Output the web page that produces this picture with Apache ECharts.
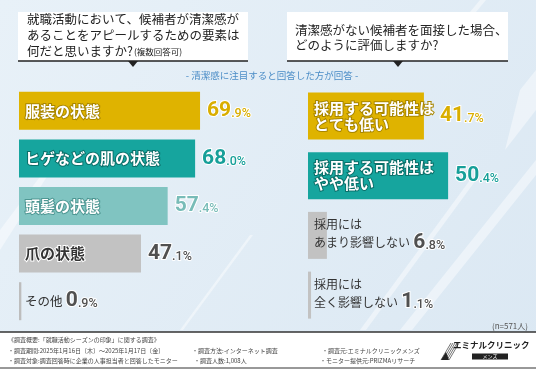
<!DOCTYPE html>
<html><head><meta charset="utf-8">
<script src="https://cdn.jsdelivr.net/npm/echarts@6/dist/echarts.min.js"></script>
<style>html,body{margin:0;padding:0;background:#fff}#c{width:536px;height:371px}</style>
</head><body><div id="c"></div>
<script>
const leftCategories = ['服装の状態', 'ヒゲなどの肌の状態', '頭髪の状態', '爪の状態', 'その他'];
const leftValues = [69.9, 68.0, 57.4, 47.1, 0.9];
const rightCategories = ['採用する可能性は\nとても低い', '採用する可能性は\nやや低い', '採用には\nあまり影響しない', '採用には\n全く影響しない'];
const rightValues = [41.7, 50.4, 6.8, 1.1];
const leftTitle = ['就職活動において、候補者が清潔感が', 'あることをアピールするための要素は', '何だと思いますか?'];
const leftTitleNote = '(複数回答可)';
const rightTitle = ['清潔感がない候補者を面接した場合、', 'どのように評価しますか?'];
const subtitle = '- 清潔感に注目すると回答した方が回答 -';
const sampleNote = '(n=571人)';

const JP = '"Noto Sans CJK JP", "Noto Sans", sans-serif';
const NUM = 'Roboto, "Noto Sans", sans-serif';

const GOLD = '#dfb300', TEAL = '#16a59e', LTEAL = '#80c4c1', GRAY = '#c2c2c2';
const leftStyle = [
  {bar: GOLD, txt: '#fff', brd: '#a88600', num: '#d9ae00', inner: false, dist: 7},
  {bar: TEAL, txt: '#fff', brd: '#0b6f69', num: '#169f99', inner: false, dist: 7},
  {bar: LTEAL, txt: '#fff', brd: '#4e9793', num: '#78bcb8', inner: false, dist: 7},
  {bar: GRAY, txt: '#333', brd: '#fff', num: '#505050', inner: false, dist: 7},
  {bar: '#bdbdbd', txt: '#333', brd: '#fff', num: '#505050', inner: true}
];
const rightStyle = [
  {bar: GOLD, txt: '#fff', brd: '#a88600', num: '#d9ae00', inner: false, dist: 16},
  {bar: TEAL, txt: '#fff', brd: '#0b6f69', num: '#169f99', inner: false, dist: 7},
  {bar: GRAY, txt: '#333', brd: '#fff', num: '#505050', inner: true},
  {bar: GRAY, txt: '#333', brd: '#fff', num: '#505050', inner: true}
];

function splitVal(v) {
  const s = v.toFixed(1).split('.');
  return {i: s[0], d: '.' + s[1] + '%'};
}
function numRich(color) {
  return {
    a: {fontFamily: NUM, fontWeight: 'bold', fontSize: 21, color: color, textBorderColor: '#fff', textBorderWidth: 2},
    b: {fontFamily: NUM, fontWeight: 500, fontSize: 12.5, color: color, textBorderColor: '#fff', textBorderWidth: 2, padding: [6, 0, 0, 0]}
  };
}

function buildSeries(cats, vals, styles, axisIdx, boldSize, plainSize) {
  const mainData = vals.map((v, k) => {
    const st = styles[k];
    const sv = splitVal(v);
    const lines = cats[k].split('\n');
    let label;
    if (st.inner) {
      const rich = Object.assign({
        t: {fontFamily: JP, fontSize: plainSize, color: st.txt, lineHeight: plainSize + 2}
      }, numRich(st.num));
      const body = lines.map((l, j) => j === lines.length - 1 ? '{t|' + l + '} {a|' + sv.i + '}{b|' + sv.d + '}' : '{t|' + l + '}').join('\n');
      label = {show: true, position: 'insideLeft', distance: 6, formatter: body, rich: rich};
    } else {
      label = {
        show: true, position: 'insideLeft', distance: 6,
        formatter: cats[k],
        fontFamily: JP, fontWeight: 'bold', fontSize: boldSize, lineHeight: boldSize + 1,
        color: st.txt, textBorderColor: st.brd, textBorderWidth: 2
      };
    }
    return {value: v, itemStyle: {color: st.bar}, label: label};
  });
  const valData = vals.map((v, k) => {
    const st = styles[k];
    const sv = splitVal(v);
    return {
      value: v,
      label: st.inner ? {show: false} : {
        show: true, position: 'right', distance: st.dist,
        formatter: '{a|' + sv.i + '}{b|' + sv.d + '}',
        rich: numRich(st.num)
      }
    };
  });
  return [
    {type: 'bar', xAxisIndex: axisIdx, yAxisIndex: axisIdx, data: mainData, barGap: '-100%', z: 3, silent: true},
    {type: 'bar', xAxisIndex: axisIdx, yAxisIndex: axisIdx, data: valData, itemStyle: {color: 'rgba(0,0,0,0)'}, z: 4, silent: true}
  ];
}

const chart = echarts.init(document.getElementById('c'), null, {renderer: 'canvas'});

const graphics = [];
graphics.push({type: 'rect', z: -10, shape: {x: 0, y: 0, width: 536, height: 371},
  style: {fill: new echarts.graphic.LinearGradient(0, 0, 1, 1, [{offset: 0, color: '#e8f1f8'}, {offset: 1, color: '#dbe8f3'}])}});
[[[0, 250], [0, 230], [60, 150], [64, 150]], [[360, 330], [470, 180], [476, 180], [366, 330]], [[400, 330], [536, 160], [536, 175], [412, 330]],
 [[520, 90], [536, 70], [536, 110], [505, 150]], [[180, 330], [250, 235], [253, 235], [183, 330]], [[430, 60], [480, 0], [486, 0], [436, 60]]].forEach(p => {
  graphics.push({type: 'polygon', z: -9, shape: {points: p}, style: {fill: 'rgba(255,255,255,0.45)'}});
});
function titleBox(x, w, triX) {
  graphics.push({type: 'rect', z: -5, shape: {x: x, y: 12, width: w, height: 49}, style: {fill: '#fff'}});
  graphics.push({type: 'line', z: -4, shape: {x1: x, y1: 61, x2: x + w, y2: 61}, style: {stroke: '#222', lineWidth: 1.5}});
  graphics.push({type: 'polygon', z: -4, shape: {points: [[triX - 5, 61], [triX + 5, 61], [triX, 67]]}, style: {fill: '#222'}});
}
titleBox(18, 230, 133);
titleBox(287, 221, 398);
leftTitle.forEach((t, k) => {
  graphics.push({type: 'text', z: 10, style: {text: t, x: 27, y: 19 + k * 16, fill: '#222', font: '12.5px ' + JP, textVerticalAlign: 'middle'}});
});
graphics.push({type: 'text', z: 10, style: {text: leftTitleNote, x: 134, y: 52, fill: '#222', font: '8.5px ' + JP, textVerticalAlign: 'middle'}});
rightTitle.forEach((t, k) => {
  graphics.push({type: 'text', z: 10, style: {text: t, x: 295, y: 30 + k * 15.5, fill: '#222', font: '12.5px ' + JP, textVerticalAlign: 'middle'}});
});
graphics.push({type: 'text', z: 10, style: {text: subtitle, x: 272, y: 75, fill: '#4a8cc6', font: '9.5px ' + JP, textAlign: 'center', textVerticalAlign: 'middle'}});
graphics.push({type: 'text', z: 10, style: {text: sampleNote, x: 528, y: 326, fill: '#555', font: '8px ' + JP, textAlign: 'right', textVerticalAlign: 'middle'}});
graphics.push({type: 'rect', z: -5, shape: {x: 0, y: 332, width: 536, height: 39}, style: {fill: '#fff'}});
graphics.push({type: 'line', z: -4, shape: {x1: 0, y1: 332, x2: 536, y2: 332}, style: {stroke: '#333', lineWidth: 1.5}});
graphics.push({type: 'line', z: -4, shape: {x1: 0, y1: 368, x2: 536, y2: 368}, style: {stroke: '#333', lineWidth: 1}});
const foot = [
  [8, 340, '《調査概要:「就職活動シーズンの印象」に関する調査》'],
  [8, 350.5, '・調査期間:2025年1月16日〔木〕～2025年1月17日〔金〕'],
  [192, 350.5, '・調査方法:インターネット調査'],
  [322, 350.5, '・調査元:エミナルクリニックメンズ'],
  [8, 360.5, '・調査対象:調査回答時に企業の人事担当者と回答したモニター'],
  [194, 360.5, '・調査人数:1,008人'],
  [320, 360.5, '・モニター提供元:PRIZMAリサーチ']
];
foot.forEach(f => graphics.push({type: 'text', z: 10, style: {text: f[2], x: f[0], y: f[1], fill: '#444', font: '6px ' + JP, textVerticalAlign: 'middle'}}));
for (let k = 0; k < 5; k++) {
  graphics.push({type: 'line', z: 10, shape: {x1: 441 + k * 2, y1: 360, x2: 451 + k * 2, y2: 343}, style: {stroke: '#666', lineWidth: 0.9}});
}
graphics.push({type: 'polygon', z: 10, shape: {points: [[441, 360], [446, 352], [449, 360]]}, style: {fill: '#222'}});
graphics.push({type: 'text', z: 10, style: {text: 'エミナルクリニック', x: 453, y: 345, fill: '#222', font: 'bold 8.5px ' + JP, textVerticalAlign: 'middle'}});
graphics.push({type: 'rect', z: 10, shape: {x: 472, y: 353.5, width: 36, height: 6}, style: {fill: '#222'}});
graphics.push({type: 'text', z: 11, style: {text: 'メンズ', x: 490, y: 356.5, fill: '#fff', font: '5px ' + JP, textAlign: 'center', textVerticalAlign: 'middle'}});

const option = {
  animation: false,
  grid: [
    {left: 19, top: 87, width: 259, height: 238},
    {left: 308, top: 86, width: 166.8, height: 239}
  ],
  xAxis: [
    {gridIndex: 0, type: 'value', min: 0, max: 100, show: false},
    {gridIndex: 1, type: 'value', min: 0, max: 60, show: false}
  ],
  yAxis: [
    {gridIndex: 0, type: 'category', data: leftCategories, inverse: true, show: false},
    {gridIndex: 1, type: 'category', data: rightCategories, inverse: true, show: false}
  ],
  graphic: graphics,
  series: [].concat(
    buildSeries(leftCategories, leftValues, leftStyle, 0, 15, 12.5).map(s => Object.assign(s, {barWidth: 38})),
    buildSeries(rightCategories, rightValues, rightStyle, 1, 15, 12).map(s => Object.assign(s, {barWidth: 47}))
  )
};
chart.setOption(option);
</script></body></html>
